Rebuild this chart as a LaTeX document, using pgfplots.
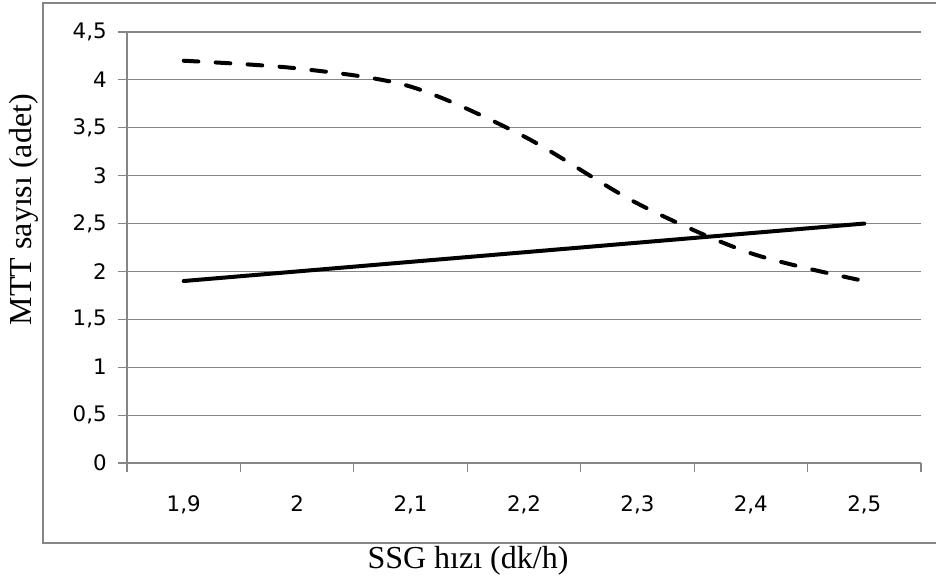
\documentclass[border=0pt]{standalone}
\usepackage{pgfplots}
\pgfplotsset{compat=1.18}
\usepackage{fontspec}
\setmainfont{Liberation Serif}
\newfontfamily\tickfont{DejaVu Sans}
\definecolor{axgray}{HTML}{868686}
\begin{document}
\begin{tikzpicture}
\path[use as bounding box] (-95.25pt,-89.25pt) rectangle (606.75pt,347.25pt);
% chart frame
\draw[axgray, line width=1.5pt] (606.75pt,345pt) -- (-63pt,345pt) -- (-63pt,-60pt) -- (606.75pt,-60pt);
\begin{axis}[
  scale only axis,
  width=595.5pt, height=323.25pt,
  at={(0,0)}, anchor=south west,
  axis lines=left,
  axis line style={-, draw=axgray, line width=1.5pt},
  xmin=0.5, xmax=7.5,
  ymin=0, ymax=4.5,
  ytick={0,0.5,...,4.5},
  yticklabels={0,{0,5},1,{1,5},2,{2,5},3,{3,5},4,{4,5}},
  xtick={1,...,7},
  xticklabels={{1,9},2,{2,1},{2,2},{2,3},{2,4},{2,5}},
  minor xtick={0.5,1.5,...,7.5},
  tick align=outside,
  major tick length=6.75pt,
  minor tick length=6.75pt,
  x tick style={draw=none},
  minor x tick style={draw=axgray, line width=0.9pt},
  y tick style={draw=axgray, line width=0.9pt},
  ymajorgrids,
  grid style={draw=axgray, line width=0.8pt},
  ticklabel style={font=\tickfont\fontsize{16}{18}\selectfont, text=black},
  xticklabel style={anchor=base, yshift=-29.5pt},
  yticklabel style={anchor=east, xshift=-5pt},
  clip=false,
]
\addplot[black, line width=3pt, line cap=round] coordinates {
  (1,1.9) (2,2.0) (3,2.1) (4,2.2) (5,2.3) (6,2.4) (7,2.5)
};
\addplot[black, line width=3pt, line cap=round, smooth, dash pattern=on 11pt off 13pt] coordinates {
  (1,4.2) (2,4.12) (3,3.93) (4,3.41) (5,2.71) (6,2.19) (7,1.9)
};
\end{axis}
\node[rotate=90, font=\fontsize{24}{28}\selectfont] at (-77.25pt,190pt) {MTT sayısı (adet)};
\node[anchor=base, font=\fontsize{24}{28}\selectfont] at (255.75pt,-78.75pt) {SSG hızı (dk/h)};
\end{tikzpicture}
\end{document}
